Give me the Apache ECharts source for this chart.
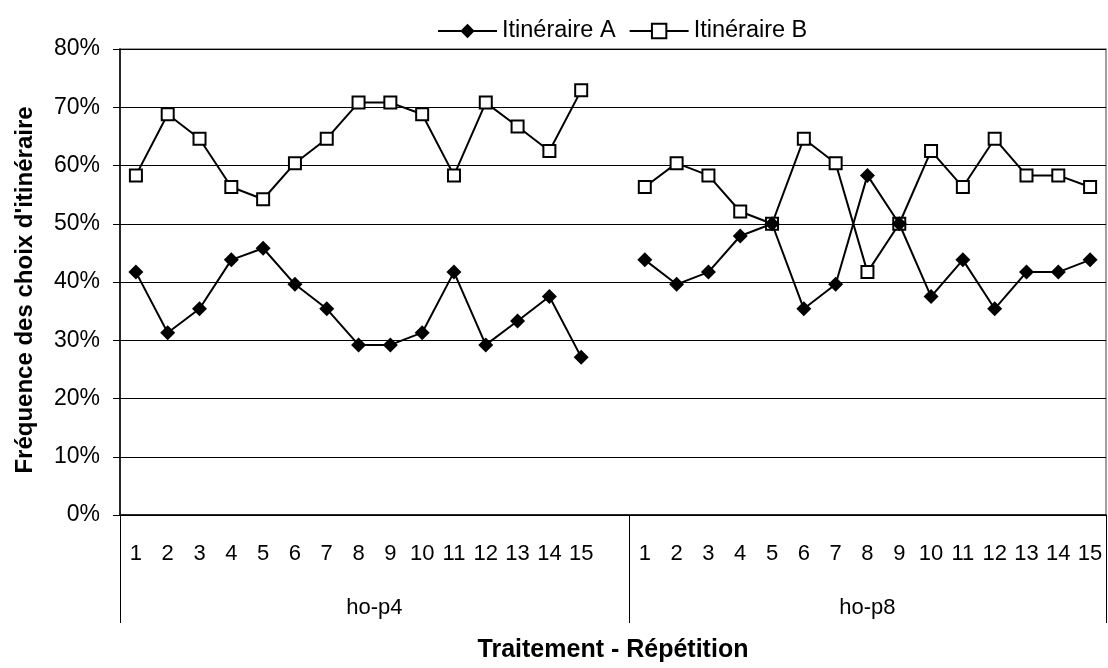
<!DOCTYPE html>
<html>
<head>
<meta charset="utf-8">
<script src="https://cdn.jsdelivr.net/npm/echarts@6/dist/echarts.min.js"></script>
<style>
  html, body { margin: 0; padding: 0; background: #fff; }
  #chart { width: 1108px; height: 668px; }
</style>
</head>
<body>
<div id="chart"></div>
<script>
// repetitions per treatment, with an empty slot between the two treatments
const categories = [
  "1", "2", "3", "4", "5", "6", "7", "8", "9", "10", "11", "12", "13", "14", "15",
  "",
  "1", "2", "3", "4", "5", "6", "7", "8", "9", "10", "11", "12", "13", "14", "15",
];
const groups = ["ho-p4", "ho-p8"];
const groupBounds = [0, 16, 31];
const groupCenters = [8, 23.5];

// route choice frequency (%)
const itinA = [
  41.7, 31.3, 35.4, 43.8, 45.8, 39.6, 35.4, 29.2, 29.2, 31.3, 41.7, 29.2, 33.3, 37.5, 27.1,
  null,
  43.8, 39.6, 41.7, 47.9, 50, 35.4, 39.6, 58.3, 50, 37.5, 43.8, 35.4, 41.7, 41.7, 43.8,
];
const itinB = [
  58.3, 68.8, 64.6, 56.3, 54.2, 60.4, 64.6, 70.8, 70.8, 68.8, 58.3, 70.8, 66.7, 62.5, 72.9,
  null,
  56.3, 60.4, 58.3, 52.1, 50, 64.6, 60.4, 41.7, 50, 62.5, 56.3, 64.6, 58.3, 58.3, 56.3,
];

const font = "Liberation Sans, Arial, sans-serif";

const chart = echarts.init(document.getElementById("chart"), null, { renderer: "canvas" });

chart.setOption({
  animation: false,
  backgroundColor: "#fff",
  textStyle: { fontFamily: font, color: "#000" },
  legend: {
    top: 14,
    left: 432,
    itemWidth: 59,
    itemHeight: 18,
    itemGap: 13,
    textStyle: { fontSize: 23.5, color: "#000", fontFamily: font },
    data: ["Itinéraire A", "Itinéraire B"],
  },
  grid: {
    left: 120,
    right: 2,
    top: 49,
    bottom: 148,
    show: true,
    borderColor: "#808080",
    borderWidth: 1.5,
  },
  xAxis: [
    {
      type: "category",
      data: categories,
      position: "bottom",
      boundaryGap: true,
      axisLine: { lineStyle: { color: "#000", width: 1.5 } },
      axisTick: { show: false },
      axisLabel: { interval: 0, fontSize: 22, margin: 28, color: "#000" },
      name: "Traitement - Répétition",
      nameLocation: "middle",
      nameGap: 123,
      nameTextStyle: { fontSize: 25, fontWeight: "bold", color: "#000" },
    },
    {
      type: "value",
      position: "bottom",
      min: 0,
      max: 31,
      axisLine: { show: false },
      splitLine: { show: false },
      axisTick: {
        show: true,
        customValues: groupBounds,
        length: 108,
        lineStyle: { color: "#000", width: 1 },
      },
      axisLabel: {
        customValues: groupCenters,
        formatter: (v) => (v < groupBounds[1] ? groups[0] : groups[1]),
        fontSize: 22,
        margin: 82,
        color: "#000",
      },
    },
  ],
  yAxis: {
    type: "value",
    min: 0,
    max: 80,
    interval: 10,
    axisLine: { show: true, lineStyle: { color: "#000", width: 1.5 } },
    axisTick: { show: true, length: 7, lineStyle: { color: "#000" } },
    axisLabel: { formatter: "{value}%", fontSize: 23, margin: 20, color: "#000" },
    splitLine: { lineStyle: { color: "#000", width: 1 } },
    name: "Fréquence des choix d'itinéraire",
    nameLocation: "middle",
    nameGap: 83,
    nameTextStyle: { fontSize: 24, fontWeight: "bold", color: "#000", padding: [0, 16, 0, 0] },
  },
  series: [
    {
      name: "Itinéraire B",
      type: "line",
      data: itinB,
      symbol: "rect",
      symbolSize: 12,
      showAllSymbol: true,
      lineStyle: { color: "#000", width: 2 },
      itemStyle: { color: "#fff", borderColor: "#000", borderWidth: 2 },
      z: 2,
    },
    {
      name: "Itinéraire A",
      type: "line",
      data: itinA,
      symbol: "diamond",
      symbolSize: 15,
      showAllSymbol: true,
      lineStyle: { color: "#000", width: 2 },
      itemStyle: { color: "#000", borderColor: "#000", borderWidth: 0 },
      z: 3,
    },
  ],
});
</script>
</body>
</html>
